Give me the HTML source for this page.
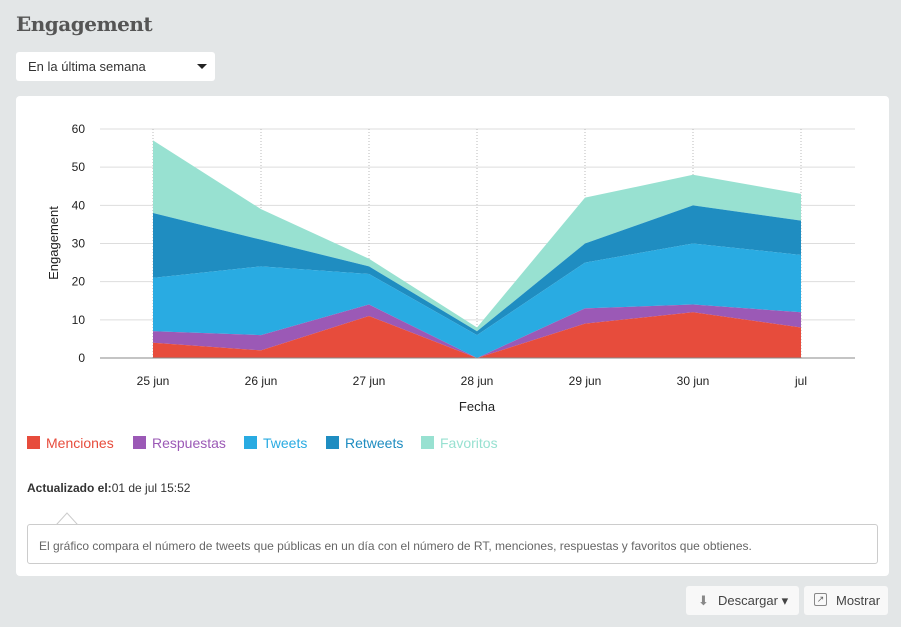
<!DOCTYPE html>
<html><head><meta charset="utf-8"><style>
body{margin:0;width:901px;height:627px;background:#e3e6e7;font-family:"Liberation Sans",sans-serif;position:relative;overflow:hidden}
h1{position:absolute;left:16px;top:12px;margin:0;font-family:"DejaVu Serif",serif;font-weight:bold;font-size:20px;color:#555;letter-spacing:-0.5px}
.sel{position:absolute;left:16px;top:52px;width:199px;height:29px;background:#fff;border-radius:3px;font-size:13px;color:#333;line-height:29px;box-sizing:border-box;padding-left:12px}
.sel:after{content:"";position:absolute;right:8px;top:12px;border:5px solid transparent;border-top:5px solid #222;border-bottom:0}
.card{position:absolute;left:16px;top:96px;width:873px;height:480px;background:#fff;border-radius:4px}
.lg{position:absolute;top:435px;font-size:14px}
.lg i{display:inline-block;width:13px;height:13px;vertical-align:-1px;margin-right:6px}
.upd{position:absolute;left:27px;top:481px;font-size:12px;color:#333}
.box{position:absolute;left:27px;top:524px;width:851px;height:40px;border:1px solid #ccc;border-radius:3px;box-sizing:border-box;font-size:12px;color:#666;padding:15px 0 0 11px;line-height:13px}
.btn{position:absolute;top:586px;height:29px;background:#f8f8f8;border-radius:3px;font-size:13px;color:#444;line-height:29px;box-sizing:border-box}
</style></head><body>
<h1>Engagement</h1>
<div class="sel">En la última semana</div>
<div class="card"></div>
<svg id="s" width="901" height="627" style="position:absolute;left:0;top:0"></svg>
<div class="lg" style="left:27px;color:#e74c3c"><i style="background:#e74c3c"></i>Menciones</div>
<div class="lg" style="left:133px;color:#9b59b6"><i style="background:#9b59b6"></i>Respuestas</div>
<div class="lg" style="left:244px;color:#29abe2"><i style="background:#29abe2"></i>Tweets</div>
<div class="lg" style="left:326px;color:#1f8dc1"><i style="background:#1f8dc1"></i>Retweets</div>
<div class="lg" style="left:421px;color:#98e1d1"><i style="background:#98e1d1"></i>Favoritos</div>
<div class="upd"><b>Actualizado el:</b>01 de jul 15:52</div>
<div class="box">El gráfico compara el número de tweets que públicas en un día con el número de RT, menciones, respuestas y favoritos que obtienes.</div>
<div class="btn" style="left:686px;width:113px;padding-left:32px">Descargar ▾<span style="position:absolute;left:12px;top:0;color:#888">⬇</span></div>
<div class="btn" style="left:804px;width:84px;padding-left:32px">Mostrar<span style="position:absolute;left:10px;top:7px;width:13px;height:13px;border:1px solid #888;border-radius:2px;box-sizing:border-box;font-size:9px;line-height:11px;text-align:center;color:#666">↗</span></div>
<script>
var s=document.getElementById('s'),h='';
var X=[153,261,369,477,585,693,801],Y=function(v){return 358-v*3.817};
for(var v=0;v<=60;v+=10){h+='<line x1="100" x2="855" y1="'+Y(v)+'" y2="'+Y(v)+'" stroke="#ddd"/>';h+='<text x="85" y="'+(Y(v)+4)+'" font-size="12" text-anchor="end" fill="#222">'+v+'</text>';}
var L=['25 jun','26 jun','27 jun','28 jun','29 jun','30 jun','jul'];
X.forEach(function(x,i){h+='<line x1="'+x+'" x2="'+x+'" y1="129" y2="358" stroke="#bbb" stroke-dasharray="1,2"/>';h+='<text x="'+x+'" y="385" font-size="12" text-anchor="middle" fill="#222">'+L[i]+'</text>';});
var D=[[0,0,0,0,0,0,0],[4,2,11,0,9,12,8],[7,6,14,0,13,14,12],[21,24,22,6,25,30,27],[38,31,24,7,30,40,36],[57,39,26,8,42,48,43]];
var C=['#e74c3c','#9b59b6','#29abe2','#1f8dc1','#98e1d1'];
for(var k=4;k>=0;k--){var p='';for(var i=0;i<7;i++)p+=X[i]+','+Y(D[k+1][i])+' ';for(var i=6;i>=0;i--)p+=X[i]+','+Y(D[k][i])+' ';h+='<polygon points="'+p+'" fill="'+C[k]+'"/>';}
h+='<line x1="100" x2="855" y1="358" y2="358" stroke="#888"/>';
h+='<text x="477" y="411" font-size="13" text-anchor="middle" fill="#222">Fecha</text>';
h+='<text transform="translate(58,243) rotate(-90)" font-size="13" text-anchor="middle" fill="#222">Engagement</text>';
h+='<polygon points="57,524 67,513 77,524" fill="#fff" stroke="#ccc"/><line x1="58" x2="76" y1="524.5" y2="524.5" stroke="#fff" stroke-width="2"/>';
s.innerHTML=h;
</script>
</body></html>
